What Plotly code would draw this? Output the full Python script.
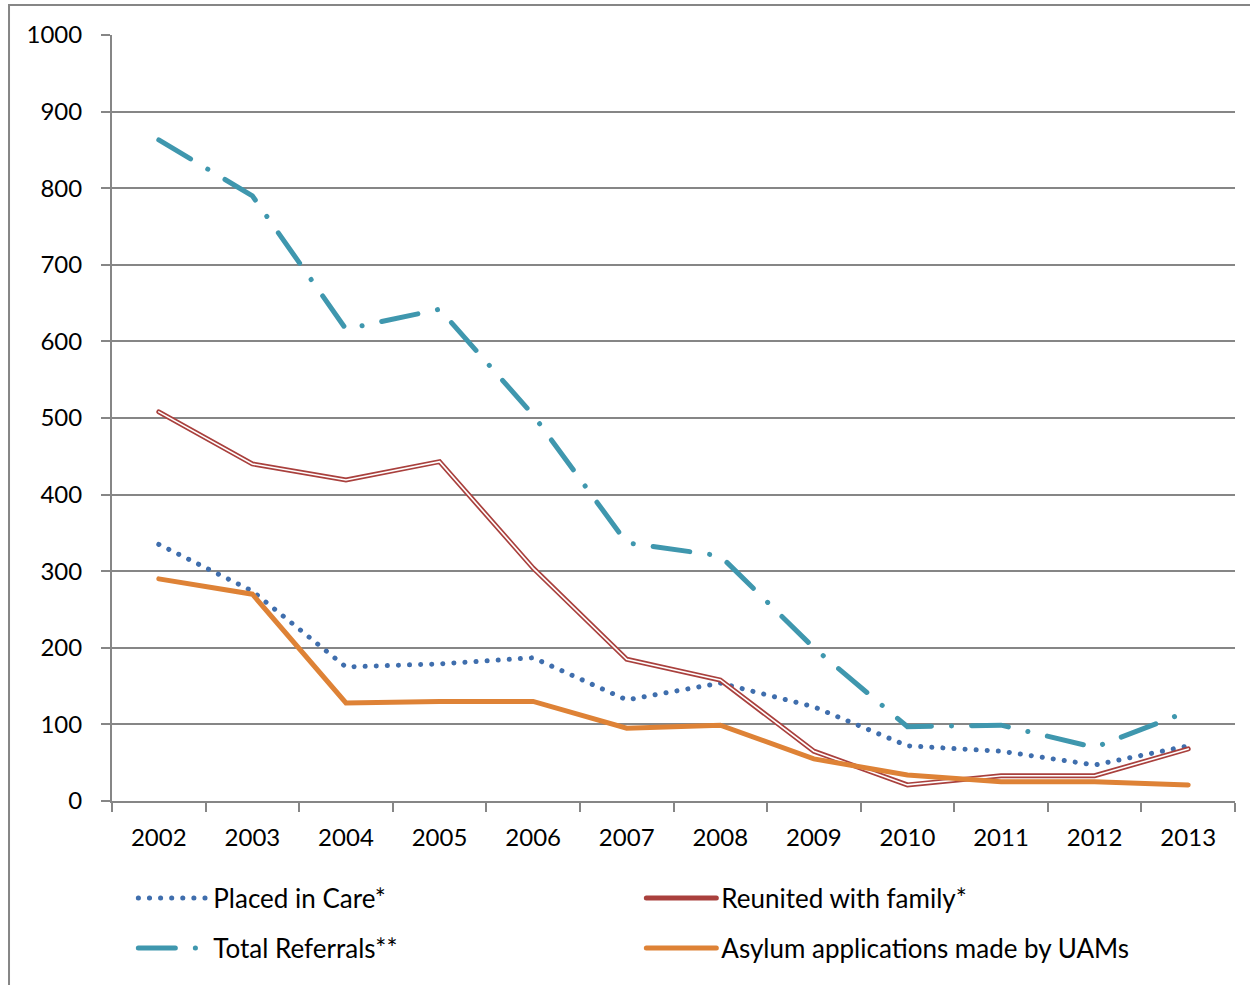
import plotly.graph_objects as go

years = ["2002", "2003", "2004", "2005", "2006", "2007", "2008", "2009", "2010", "2011", "2012", "2013"]
placed_in_care = [335, 274, 175, 179, 187, 132, 154, 123, 72, 65, 47, 72]
reunited = [508, 440, 419, 443, 304, 185, 158, 65, 21, 33, 33, 68]
total_referrals = [863, 790, 616, 642, 504, 337, 320, 200, 97, 99, 70, 117]
asylum_apps = [290, 270, 128, 130, 130, 95, 99, 55, 34, 25, 25, 21]

FONT = "Lato"
fig = go.Figure()

fig.add_trace(go.Scatter(x=years, y=placed_in_care, mode="lines", name="Placed in Care*",
                         line=dict(color="#3F6EAD", width=5, dash="0.1px,11px"), legend="legend"))
fig.add_trace(go.Scatter(x=years, y=reunited, mode="lines", name="Reunited with family*",
                         line=dict(color="#A9403D", width=5), legend="legend"))
fig.add_trace(go.Scatter(x=years, y=reunited, mode="lines", name="Reunited inner",
                         line=dict(color="white", width=1.6), showlegend=False, hoverinfo="skip"))
fig.add_trace(go.Scatter(x=years, y=total_referrals, mode="lines", name="Total Referrals**",
                         line=dict(color="#3F97AE", width=5, dash="37px,20px,0.1px,20px"), legend="legend2"))
fig.add_trace(go.Scatter(x=years, y=asylum_apps, mode="lines", name="Asylum applications made by UAMs",
                         line=dict(color="#DE8236", width=5), legend="legend2"))

legend_common = dict(orientation="h", x=0.019, xanchor="left", yanchor="middle",
                     entrywidth=423, entrywidthmode="pixels", font=dict(size=26, family=FONT),
                     itemwidth=70, bgcolor="rgba(0,0,0,0)")

fig.update_layout(
    width=1250, height=985,
    margin=dict(l=112, r=15, t=35, b=184, autoexpand=False),
    paper_bgcolor="white", plot_bgcolor="white",
    font=dict(family=FONT, size=24, color="black"),
    showlegend=True,
    legend=dict(legend_common, y=-0.1266),
    legend2=dict(legend_common, y=-0.1919),
    xaxis=dict(type="category", showgrid=False, showline=True, linecolor="#868686", linewidth=2,
               ticks="outside", tickson="boundaries", ticklen=9, tickcolor="#868686", tickwidth=2,
               tickfont=dict(size=24, family=FONT), range=[-0.5, 11.5], ticklabelstandoff=14),
    yaxis=dict(range=[0, 1000], dtick=100, showgrid=True, gridcolor="#868686", gridwidth=2,
               showline=True, linecolor="#868686", linewidth=2, zeroline=False,
               ticks="outside", ticklen=9, tickcolor="#868686", tickwidth=2,
               tickfont=dict(size=24, family=FONT), ticklabelstandoff=14),
    shapes=[dict(type="rect", xref="paper", yref="paper", x0=-0.0917, x1=1.05, y0=-0.3, y1=1.0392,
                 line=dict(color="#868686", width=2), fillcolor="rgba(0,0,0,0)", layer="below")],
)

post = """
document.body.style.margin='0';
document.querySelectorAll('path.js-line').forEach(function(p){p.style.strokeLinecap='round';});
"""
fig.write_html("out.html", post_script=post, config={"displayModeBar": False})
